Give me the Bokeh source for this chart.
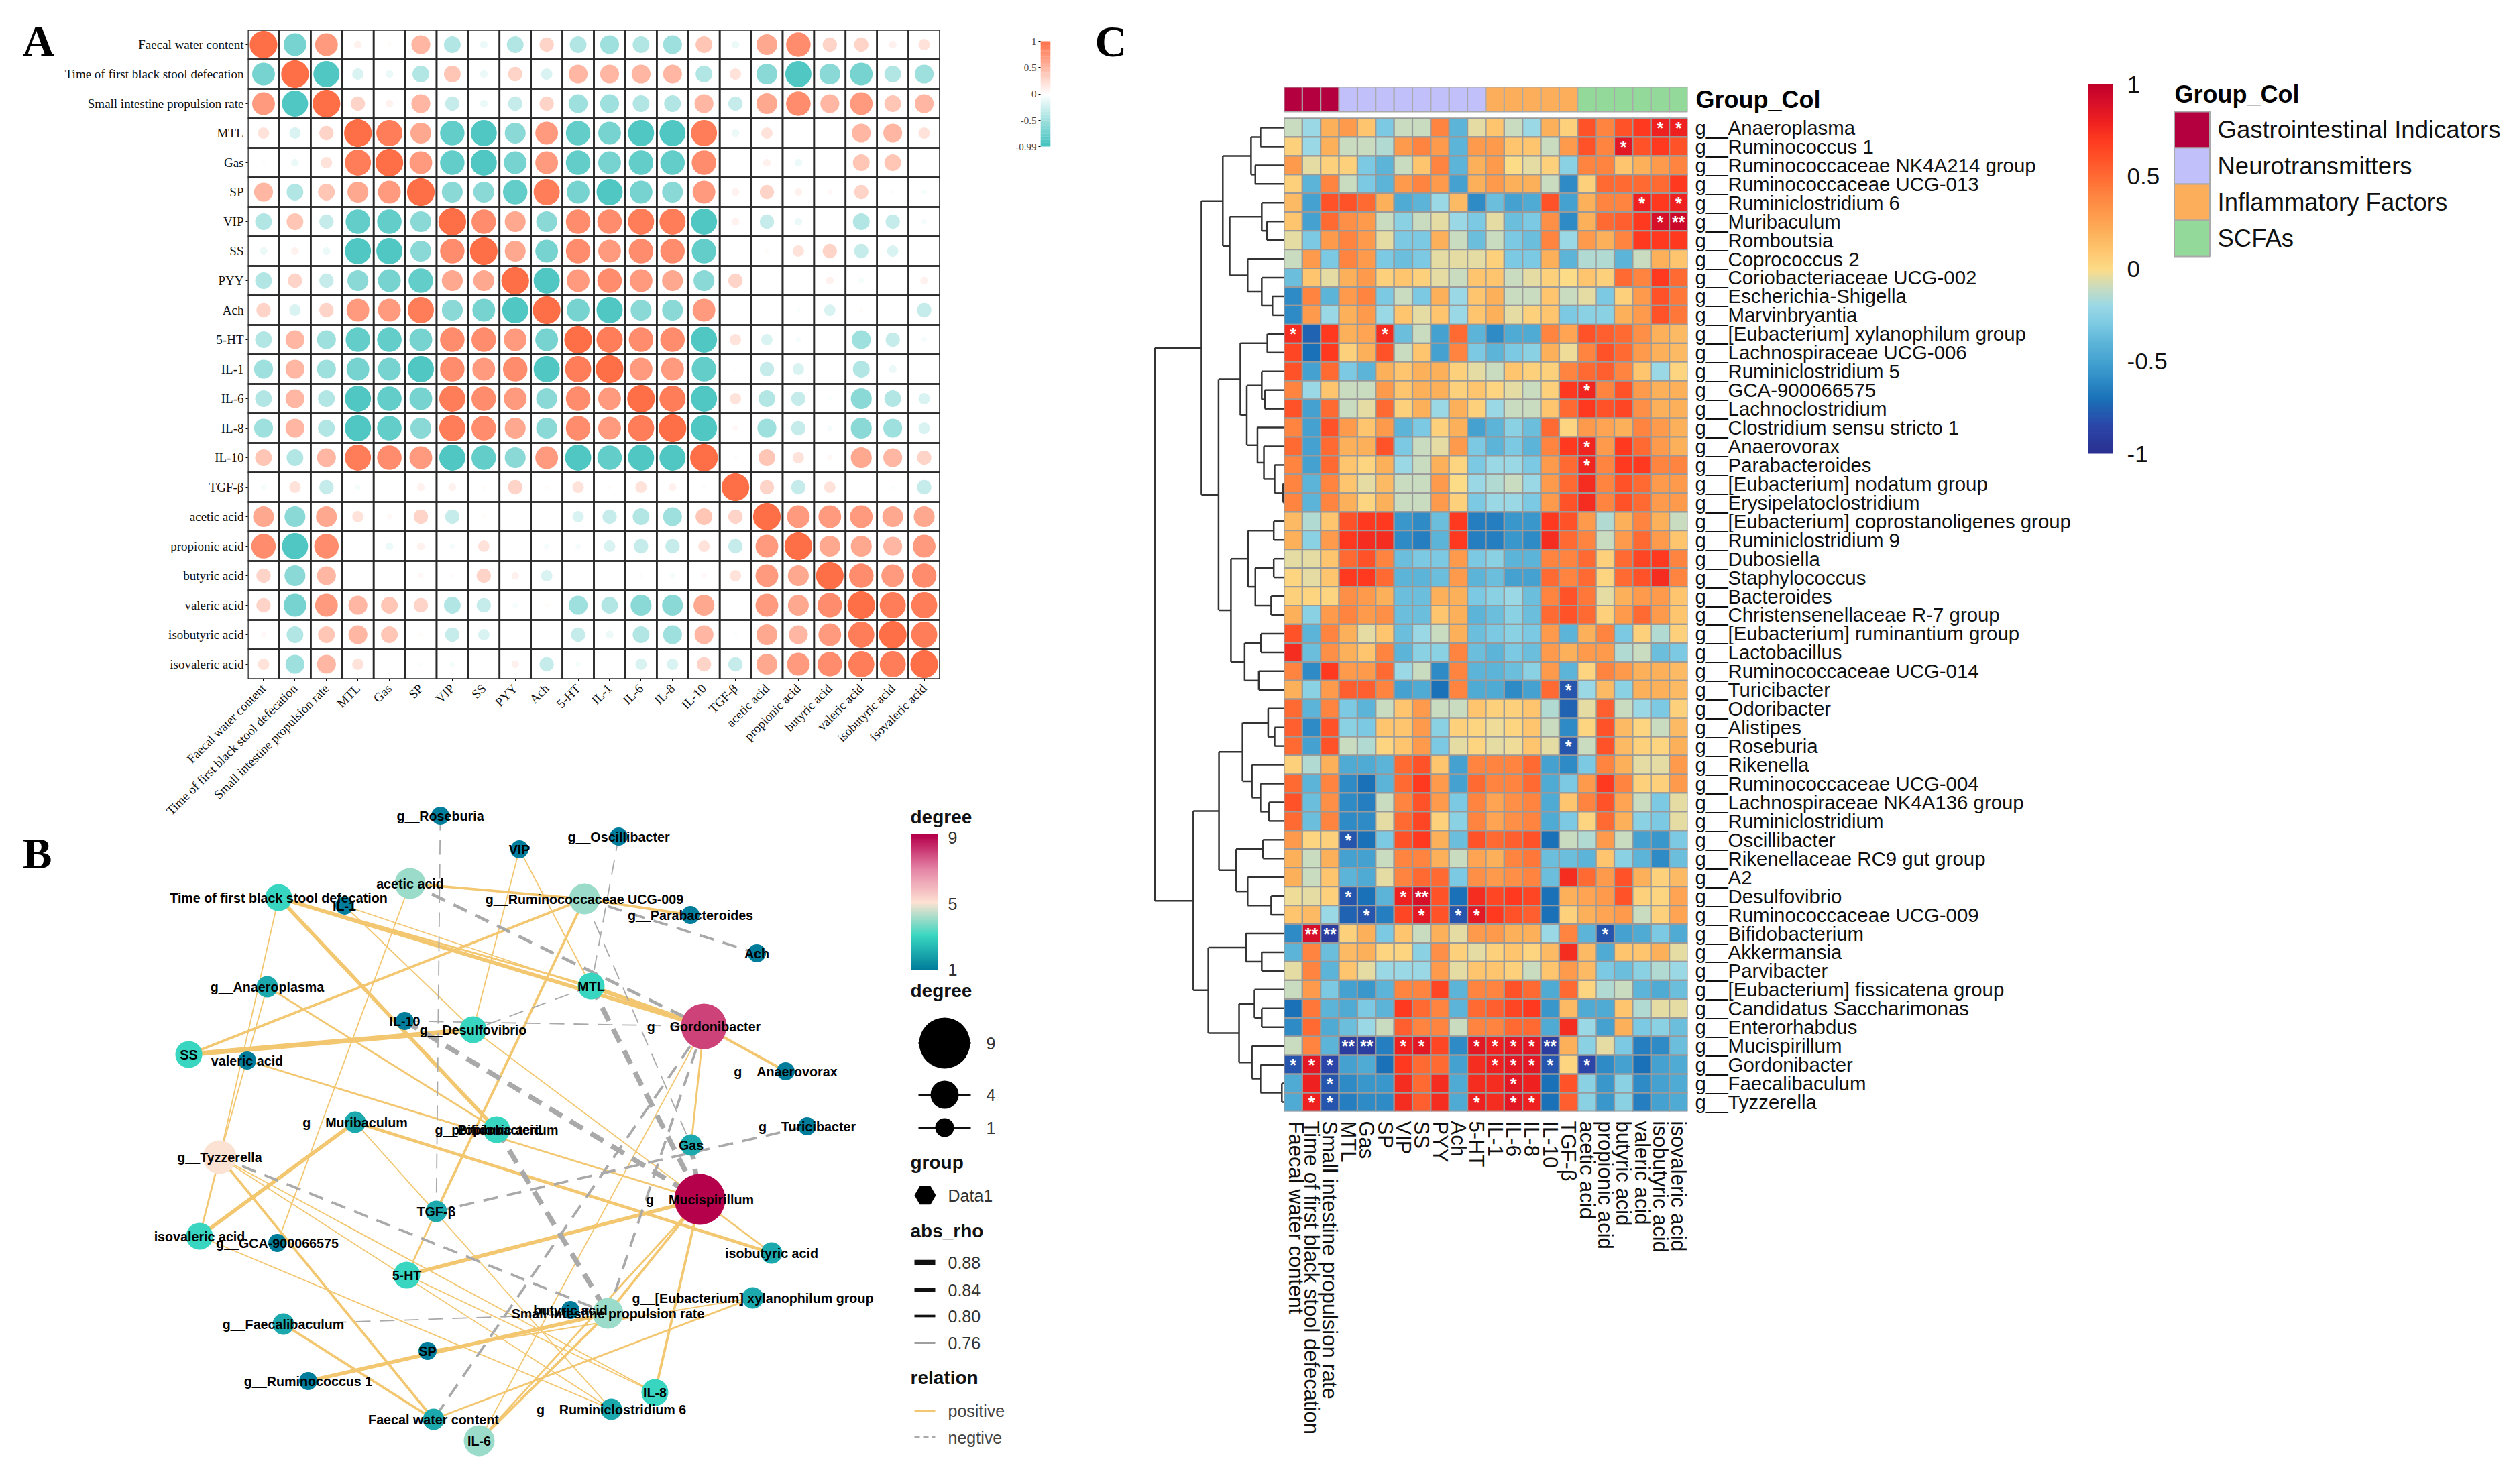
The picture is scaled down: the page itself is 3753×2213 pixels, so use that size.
import math
import numpy as np
from bokeh.plotting import figure
from bokeh.layouts import row, column
from bokeh.models import ColumnDataSource, LinearColorMapper, FixedTicker, Range1d
from bokeh.core.properties import value
from bokeh.embed import file_html
from bokeh.resources import INLINE

SERIF = "Liberation Serif"
SANS = "Liberation Sans"

# ---------- shared variable names ----------
variables = ["Faecal water content", "Time of first black stool defecation", "Small intestine propulsion rate",
             "MTL", "Gas", "SP", "VIP", "SS", "PYY", "Ach", "5-HT", "IL-1", "IL-6", "IL-8", "IL-10", "TGF-β",
             "acetic acid", "propionic acid", "butyric acid", "valeric acid", "isobutyric acid", "isovaleric acid"]

# ---------- panel A: correlations, in tenths ----------
corr_rows = [
 [10,-7,7,1,.3,5,-4,-1,-4,3,-4,-5,-4,-5,4,-1,6,8,3,3,1,2],
 [-7,10,-9,-2,-1,-4,4,-1,3,-2,5,5,5,5,-4,2,-6,-9,-6,-7,-4,-5],
 [7,-9,10,3,1,5,-3,-1,-3,3,-5,-5,-4,-4,5,-3,6,8,5,7,4,5],
 [2,-2,3,10,9,6,-8,-9,-6,7,-8,-7,-9,-9,9,-1,2,0,0,5,5,2],
 [.3,-1,2,9,10,7,-8,-9,-7,7,-8,-7,-8,-8,8,0,1,-1,0,4,4,0],
 [5,-4,4,6,7,10,-6,-6,-8,9,-7,-9,-7,-6,7,1,3,1,.5,3,.3,-.5],
 [-4,4,-3,-8,-8,-6,10,8,6,-6,8,8,9,9,-9,1,-3,-1,0,-4,-3,-.5],
 [-1,1,-1,-9,-9,-6,8,10,6,-7,8,7,8,8,-8,0,.3,2,3,-3,-2,0],
 [-4,3,-3,-6,-7,-8,6,6,10,-9,7,8,7,6,-6,3,0,0,1,-.5,0,1],
 [3,-2,3,7,7,9,-6,-7,-9,10,-7,-9,-6,-6,7,0,0,-.3,-2,.3,0,-3],
 [-4,5,-5,-8,-8,-7,8,8,7,-7,10,9,8,8,-9,2,-2,-.5,0,-5,-3,-.5],
 [-5,5,-5,-7,-7,-9,8,7,8,-9,9,10,7,7,-8,.2,-3,-2,0,-4,-1,0],
 [-4,5,-4,-9,-8,-7,9,8,7,-6,8,7,10,9,-9,2,-4,-3,-.3,-6,-4,-2],
 [-5,5,-4,-9,-8,-6,9,8,6,-6,8,7,9,10,-9,.5,-5,-3,-.5,-6,-5,-2],
 [4,-4,5,9,8,7,-9,-8,-6,7,-9,-8,-9,-9,10,.3,4,2,.5,6,5,3],
 [-.5,2,-3,-.5,0,1,1,.3,3,.3,2,.3,2,1,.3,10,3,-3,2,0,-.3,-3],
 [6,-6,6,2,.5,3,-3,.3,0,0,-2,-3,-4,-5,4,3,10,7,7,7,6,6],
 [8,-9,8,0,-1,1,-.5,2,0,-.5,-.5,-2,-3,-3,2,-3,7,10,6,6,5,7],
 [3,-6,5,0,0,.5,.3,3,1,-2,0,0,-.3,-.5,.5,2,7,6,10,8,7,8],
 [3,-7,7,5,4,3,-4,-3,-.5,.3,-5,-4,-6,-6,6,0,7,6,8,10,9,9],
 [.5,-4,4,5,4,.3,-3,-2,0,0,-3,-1,-4,-5,5,-.3,6,5,7,9,10,9],
 [2,-5,5,2,0,-.3,-.5,0,1,-3,-.5,0,-2,-2,3,-3,6,7,8,9,9,10],
]

# ---------- panel C: genera and correlations, in tenths ----------
genera = ["g__Anaeroplasma","g__Ruminococcus 1","g__Ruminococcaceae NK4A214 group","g__Ruminococcaceae UCG-013",
 "g__Ruminiclostridium 6","g__Muribaculum","g__Romboutsia","g__Coprococcus 2","g__Coriobacteriaceae UCG-002",
 "g__Escherichia-Shigella","g__Marvinbryantia","g__[Eubacterium] xylanophilum group","g__Lachnospiraceae UCG-006",
 "g__Ruminiclostridium 5","g__GCA-900066575","g__Lachnoclostridium","g__Clostridium sensu stricto 1","g__Anaerovorax",
 "g__Parabacteroides","g__[Eubacterium] nodatum group","g__Erysipelatoclostridium","g__[Eubacterium] coprostanoligenes group",
 "g__Ruminiclostridium 9","g__Dubosiella","g__Staphylococcus","g__Bacteroides","g__Christensenellaceae R-7 group",
 "g__[Eubacterium] ruminantium group","g__Lactobacillus","g__Ruminococcaceae UCG-014","g__Turicibacter","g__Odoribacter",
 "g__Alistipes","g__Roseburia","g__Rikenella","g__Ruminococcaceae UCG-004","g__Lachnospiraceae NK4A136 group",
 "g__Ruminiclostridium","g__Oscillibacter","g__Rikenellaceae RC9 gut group","g__A2","g__Desulfovibrio",
 "g__Ruminococcaceae UCG-009","g__Bifidobacterium","g__Akkermansia","g__Parvibacter","g__[Eubacterium] fissicatena group",
 "g__Candidatus Saccharimonas","g__Enterorhabdus","g__Mucispirillum","g__Gordonibacter","g__Faecalibaculum","g__Tyzzerella"]

heat_rows = [
 [-1,-2,2,3,1,-3,-1,-1,4,-4,-.5,1,-1,-2,2,.5,6,4,6,7,8,8],
 [.5,-2,2,-1,-1,-1.5,3,4,3,-4,3,3,1,1,-1,3,6,4,8.5,6,7,6],
 [3,-.5,.5,.5,-3,-4,-1,1,4,-4,2,3,0,-.5,.5,-2.5,4,4,1,2,3,4],
 [.5,-4,4,-1,-3,-4,3,4,3,-5,2,3,2,2,-1,-6,.5,5,5,5,5,7],
 [1.5,-5,6,6,5,2,-4.5,-4,-2,1.5,-6,-3.5,-5,-4.5,6,-5,2,4,4,8,7,8],
 [1,-5,5,3.5,3,-1,-2.5,-1,-.5,-2,-3,-.5,-3.5,-3,3.5,-6,2,5,5.5,7,9,9.5],
 [-.5,-3,3,4,3,-.5,-3,-3,2,-1,-3.5,-1,-3,-3.5,4,-2,3,2,4,7,7,7],
 [-1,3,-3,4,3,-3,-3.5,-3,-.5,-.5,-.5,.5,-3,-3,2,-4,-1.5,-1.5,-4,-1,2,1],
 [-3.5,1,-.5,2,3,.5,1,.5,-.5,-1,1,1,-1,-.5,.5,0,1,.5,5,4,7,5],
 [-6,4,-4,3,4,-3,-1,-3,2,-2,1,2,-1,-1,1,-1,-.5,-3,.5,3,6,4.5],
 [-6,3,-2,2,3,-2,1,-.5,1,-2,1,2,-.5,.5,1,-3,-2.5,-2.5,2,3,6,4.5],
 [7.5,-7.5,7,2,2.5,7.5,-3.5,-1,-5,5,-4,-6,-4.5,-4.5,4,2.5,6,5.5,5,3.5,2,1.5],
 [6.5,-7,7,.5,2,6,-1,1,-5,4,-3,-4,-3,-2.5,2,-.3,4,6,5,3,2,1.5],
 [6,-5,5,-3,-4,2,1,2,2,.5,-.5,-1,1,.5,.5,4,5,5.5,4,1,-2,.3],
 [4,-2,1,-1,-1,3,1,2,2,.5,1,.3,-.5,-1,.5,7,7.8,4,6,3,2,2],
 [6,-5,5,-1,-.5,5,.5,2,-2,2,.5,-2,-1,-1,1,5,7,6,6.5,3.5,2,2],
 [4,-5,6,3,1,3,-4,-3,.5,2,-5,-4,-2.5,-3.5,5,.3,3,2.5,2,4,3,2],
 [5,-5,5,2,2,6,-3,-1,-.5,3,-3,-4,-3,-4,4,7,7.8,3,7,5,3,2],
 [4,-5,5,1,.3,2,-2,-1,2,.3,-3,-2,-2,-3,3,5,7.8,4,7,7,4,4],
 [4,-4,4,1,-.5,1.5,-1,-1,3,0,-2,-1.5,-1,-2,3,5,7.5,4,6,5,3,3],
 [4,-4,4,2,.3,2,-1,-1,3,.5,-3,-2,-2,-3,3,6,7.5,4,6,5,3,3],
 [1.5,-1.5,1,6,7,7,-5.5,-6,-3.5,7,-6.5,-6.5,-5.5,-5.5,7,6,3,-1.5,2,4,2,-1],
 [2,-2.5,3,7,7.5,7.5,-6,-6.5,-4,7,-6.5,-6.5,-5.5,-6,7.5,5,4,-1,3,5,3,1],
 [-.5,-.5,1,5,6,4,-3.5,-3,-3,3,-3,-2.5,-4,-4,4,4,5,.5,5,6.5,7,4],
 [.3,-.5,1,7,7,5,-4,-4,-3.5,3,-4,-3.5,-5,-5,5,4,5,.3,5,6,7.5,4],
 [.5,.3,.3,3.5,3,2,-3.5,-3.5,2,2,-3,-2.5,-2,-3.5,4,6,4.5,-.5,2,3,3,1],
 [2,-2.5,3,4,3,3.5,-3.5,-3.5,1,2,-4,-3.5,-2.5,-3.5,5,6,5,.5,3,5,3,1],
 [6,-4,4,2,-.5,1,-3.5,-2,-1,2,-3.5,-3,-2.5,-3,3,-4,2,4,-3,.5,-1.5,.5],
 [7.5,-3.5,3.5,2,1,4,-4,-2.5,-2.5,4,-3.5,-4,-3,-3.5,3,2,3,3,-1.5,-1,-3.5,-3],
 [4,-6,7,3,3,5,-2,-1,-6,4,-4,-4,-3.5,-2.5,3,-4,.3,4,3,2,2,1.5],
 [2,-2.5,3,5.5,5.5,4,-5,-4.5,-7,4,-4.5,-4.5,-6,-5,5,-8,-2,1.5,-2.5,2,2,1.5],
 [5,-4,4,-3,-4,-1,1,3,-1,-1,1,.5,.5,1,-1.5,-7.5,-.5,5.5,-1,-2,-3,.5],
 [5.5,-6,6,-2.5,-3,1,1,3,-2.5,.5,.3,-.3,.3,1,-1,-6,.3,6,1.5,.3,-1,1.5],
 [5,-5,6,-1,-1.5,.3,1,3,-3,-.5,.3,-.5,-.3,1,-.5,-8,-1,6,1.5,.5,.3,2],
 [.5,-1.5,2,-4.5,-4.5,-4,5,6,1,-5,4,4,4,5,-5,-6,-3,4,2,-.5,-.5,3],
 [5,-4,4,-6,-7,-4,5,7,3,-5,5,4,4,5,-4.5,-3,3,7,4,.5,.5,3],
 [6,-3.5,3.5,-6,-6.5,-1,4,6,3,-3,4,2.5,3.5,4,-4.5,1,4,6,2.5,-1,-3,-.5],
 [5,-3.5,4,-6,-6,-.5,5,6.5,.5,-2.5,4,2.5,3.5,4,-4.5,-3,.3,5,2,-2.5,-3,-.5],
 [3,.3,.5,-8,-7,-3,6,7,2,-3.5,6,5,5.5,6,-7,-1,-1.5,3,-1,-5,-5.5,-3],
 [2,-1,2,-5,-5,-1,4,4,2,-1,2.5,2,4,4.5,-3.5,-3.5,-4,1,-2.5,-4,-6,-3.5],
 [2,-1,1,-4,-4.5,-.5,4,5,5,-3,3.5,3,3.5,4,-3.5,7.5,5,3,6,2,.5,1.5],
 [-.3,-.5,.5,-8,-7,-4,8,9,6,-7,7.5,6.5,7,6.5,-7,2,2.5,3,6,.5,.3,2.5],
 [1,1.5,-2,-7.5,-8,-6.5,6.5,8.5,6,-8,8.5,7,6,5.5,-7,.5,2,2.5,3,-1,.5,2.5],
 [-6,9,-9,.5,2,-3,1,-1,2,-.5,3,3,2,2,-2,4,-4,-8,-5,-4.5,-3,-4.5],
 [-4,4,-3.5,1.5,2,.3,.3,-2.5,3.5,.5,-.5,.5,1,.3,1.5,7.5,1.5,-4.5,1,1,2,-.5],
 [-.5,4,-4,1,-.5,-2,-2,-2,3,-.5,1,1,.5,-1,1,3,1.5,-3,-3.5,-2.5,-1.5,-2],
 [-1,3,-3,-5,-5.5,-4,4,4,6.5,-4,4,4,6,5,-4.5,5,.3,-1.5,-1,-4,-4.5,-3.5],
 [-7,4.5,-4,-4.5,-3,-4,7,5,4,-4,5,5.5,6.5,7,-5.5,1.5,-4.5,-4.5,1,-1.5,-.5,-.5],
 [-6,5,-4.5,-3.5,-2,-1,5.5,4,4,-1,4,4,5,5,-4.5,7.5,-2,-5,2,-3,-2.5,-3.5],
 [-1,4,-4,-9,-9,-6.5,8,8.5,6.5,-6,8.5,8,8.5,8.5,-9,2,-2.5,-.5,-3,-6.5,-6,-3.5],
 [-8,8.5,-8.5,-5,-4.5,-7,7,5,5,-5,7.5,8,8.5,8.5,-8,.3,-8.5,-6,-5,-7,-5,-4.5],
 [-4.5,8,-8,-6,-5.5,-5.5,7.5,5,7.5,-4.5,7.5,7.5,8.5,8,-7,6,-2.5,-5.5,-2.5,-6,-5,-4.5],
 [-4.5,8,-8,-6.5,-6,-6,7.5,5.5,7.5,-4.5,8,7.5,8.5,8,-7,5.5,-2.5,-5.5,-2.5,-6.5,-5,-4.5],
]
assert len(heat_rows) == len(genera) and all(len(r) == 22 for r in heat_rows)
assert len(corr_rows) == 22 and all(len(r) == 22 for r in corr_rows)

# significance marks: (row number, column number, text)
stars = [(1,21,"*"),(1,22,"*"),(2,19,"*"),(5,20,"*"),(5,22,"*"),(6,21,"*"),(6,22,"**"),(12,1,"*"),(12,6,"*"),
 (15,17,"*"),(18,17,"*"),(19,17,"*"),(31,16,"*"),(34,16,"*"),(39,4,"*"),(42,4,"*"),(42,7,"*"),(42,8,"**"),
 (43,5,"*"),(43,8,"*"),(43,10,"*"),(43,11,"*"),(44,2,"**"),(44,3,"**"),(44,18,"*"),
 (50,4,"**"),(50,5,"**"),(50,7,"*"),(50,8,"*"),(50,11,"*"),(50,12,"*"),(50,13,"*"),(50,14,"*"),(50,15,"**"),
 (51,1,"*"),(51,2,"*"),(51,3,"*"),(51,12,"*"),(51,13,"*"),(51,14,"*"),(51,15,"*"),(51,17,"*"),
 (52,3,"*"),(52,13,"*"),(53,2,"*"),(53,3,"*"),(53,11,"*"),(53,13,"*"),(53,14,"*")]

group_names = ["Gastrointestinal Indicators", "Neurotransmitters", "Inflammatory Factors", "SCFAs"]
group_colors = ["#b5003f", "#c2c0fa", "#fdae5a", "#92d99a"]
group_of_column = [0]*3 + [1]*8 + [2]*5 + [3]*6

# dendrogram: (merge height, upper branch, lower branch); integers are row numbers
t1_4 = (.77, (.55, 1, 2), (.67, 3, 4))
t5_7 = (.52, 5, (.40, 6, 7))
t8_11 = (.85, 8, (.52, 9, (.27, 10, 11)))
t1_11 = (1.43, t1_4, (1.27, t5_7, t8_11))
t12_21 = (1.02, (.39, 12, 13), (.87, (.52, 14, (.45, 15, 16)), (.62, 17, (.47, 18, (.22, 19, (.02, 20, 21))))))
t22_27 = (.84, (.24, 22, 23), (.67, (.24, 24, 25), (.30, 26, 27)))
t28_31 = (.92, (.54, 28, 29), (.59, 30, 31))
t12_31 = (1.53, t12_21, (1.24, t22_27, t28_31))
t32_38 = (.97, (.37, 32, (.22, 33, 34)), (.75, 35, (.55, 36, (.35, 37, 38))))
t39_43 = (1.12, (.49, 39, 40), (.85, 41, (.30, 42, 43)))
t44_46 = (.89, 44, (.52, 45, 46))
t47_53 = (1.05, (.69, 47, (.52, 48, 49)), (.75, 50, (.55, 51, (.05, 52, 53))))
dendrogram = (3.02, (1.93, t1_11, t12_31), (2.12, (1.52, t32_38, t39_43), (1.77, t44_46, t47_53)))

# ---------- panel B: network ----------
node_names = ["g__Roseburia","VIP","g__Oscillibacter","acetic acid","Time of first black stool defecation","IL-1",
 "g__Ruminococcaceae UCG-009","g__Parabacteroides","Ach","g__Anaeroplasma","MTL","IL-10","g__Desulfovibrio",
 "g__Gordonibacter","SS","valeric acid","g__Anaerovorax","g__Muribaculum","propionic acid","g__Bifidobacterium",
 "g__Turicibacter","Gas","g__Tyzzerella","g__Mucispirillum","TGF-β","isovaleric acid","g__GCA-900066575",
 "isobutyric acid","5-HT","g__[Eubacterium] xylanophilum group","butyric acid","Small intestine propulsion rate",
 "g__Faecalibaculum","SP","g__Ruminococcus 1","IL-8","g__Ruminiclostridium 6","Faecal water content","IL-6"]
node_x = [656,774,922,611,415,513,871,1029,1128,398,881,603,705,1049,281,368,1171,529,740,740,1203,1030,327,1043,650,
          297,413,1150,606,1122,850,906,422,637,459,976,911,646,714]
node_y = [1216,1266,1247,1317,1338,1350,1340,1364,1421,1471,1470,1522,1535,1530,1572,1581,1597,1673,1684,1684,1679,
          1707,1725,1788,1806,1843,1853,1868,1901,1935,1953,1958,1974,2014,2059,2076,2101,2116,2148]
node_degree = [1,1,1,4,3,1,4,1,1,2,3,1,3,8,3,1,1,2,2,3,1,2,5,9,2,3,1,2,3,2,1,4,2,1,1,3,2,2,4]

T, U, S, G, M, D = ("Time of first black stool defecation", "g__Ruminococcaceae UCG-009",
                    "Small intestine propulsion rate", "g__Gordonibacter", "g__Mucispirillum", "g__Desulfovibrio")
Z, F, R6, X, B = ("g__Tyzzerella", "Faecal water content", "g__Ruminiclostridium 6",
                  "g__[Eubacterium] xylanophilum group", "g__Bifidobacterium")
positive_edges = [("acetic acid",U,.80),("acetic acid","g__GCA-900066575",.76),(T,G,.84),(T,"MTL",.78),(T,B,.84),(T,Z,.76),
 ("IL-1",G,.76),("IL-1",D,.76),("VIP",D,.76),("VIP","MTL",.76),(U,"g__Parabacteroides",.80),(U,"SS",.80),(U,"TGF-β",.80),
 ("TGF-β","5-HT",.78),("g__Anaeroplasma",Z,.76),("g__Anaeroplasma","propionic acid",.78),("SS",D,.88),("valeric acid",M,.78),
 ("g__Muribaculum","isobutyric acid",.82),("g__Muribaculum","isovaleric acid",.84),("g__Muribaculum",R6,.76),(D,M,.76),
 (G,"g__Anaerovorax",.80),(G,"Gas",.78),(G,"MTL",.84),(M,"5-HT",.84),(M,S,.80),(M,"IL-8",.80),(M,"IL-6",.78),(M,"isobutyric acid",.78),
 (Z,"isovaleric acid",.78),(Z,F,.80),(Z,"IL-8",.76),(Z,R6,.76),("isovaleric acid",R6,.76),("g__Faecalibaculum",F,.80),
 ("g__Ruminococcus 1",S,.84),("SP",X,.76),(F,X,.78),("IL-6",G,.76),("IL-6",S,.80),("5-HT","IL-8",.76)]
negative_edges = [("g__Roseburia","TGF-β",.76),("g__Oscillibacter","MTL",.76),("acetic acid",G,.82),(U,"Ach",.80),(U,"Gas",.76),
 ("MTL",D,.76),("IL-10",G,.76),("IL-10",M,.88),("MTL",M,.88),("Gas",M,.88),(B,S,.88),(Z,S,.80),("g__Faecalibaculum",S,.76),
 (G,S,.80),(G,F,.80),("TGF-β","g__Turicibacter",.80)]

rho_levels = [.88, .84, .80, .76]
degree_legend = [9, 4, 1]
relation_labels = ["positive", "negtive"]
heat_ticks = [-1, -.5, 0, .5, 1]
corr_ticks = [-.99, -.5, 0, .5, 1]

# ---------- colours ----------
def hex2rgb(h): return [int(h[i:i+2], 16) for i in (1, 3, 5)]
def ramp(pts, vals, n=512):
    cols = np.array([hex2rgb(v) for v in vals], float)
    xs = np.linspace(pts[0], pts[-1], n)
    out = np.stack([np.interp(xs, pts, cols[:, i]) for i in range(3)], 1).round().astype(int)
    return ["#%02x%02x%02x" % tuple(c) for c in out]

heat_pal = ramp([-1,-.85,-.7,-.6,-.5,-.4,-.3,-.2,-.1,0,.1,.2,.3,.4,.5,.6,.7,.8,.9,1],
 ["#2a3090","#2b46a8","#1a72b8","#2f8bc6","#45a2d0","#5cb4d8","#7cc9e3","#9ad8e5","#c9dcc0","#fddc88","#fec56e",
  "#fdb05a","#fe9a4c","#fe8440","#ff6b33","#ff5228","#fe3a20","#ee2020","#d8102a","#c00028"])
heat_map = LinearColorMapper(palette=heat_pal, low=-1, high=1)
corr_pal = ramp([-.99, 0, 1], ["#3fc1bd", "#ffffff", "#ff6f47"])
corr_map = LinearColorMapper(palette=corr_pal, low=-.99, high=1)
degree_pal = ramp([1, 3, 5, 7, 9], ["#007d9b", "#38d6c0", "#fde2d2", "#e583a6", "#b5004b"])

def base(**kw):
    kw.setdefault("min_border_left", 0); kw.setdefault("min_border_right", 0)
    kw.setdefault("min_border_top", 0); kw.setdefault("min_border_bottom", 0)
    p = figure(output_backend="svg", toolbar_location=None, border_fill_color=None, background_fill_color=None,
               frame_align=False, **kw)
    p.grid.visible = False
    p.outline_line_color = None
    return p

def letter(p, x, y, s):
    p.text([x], [y], text=[s], text_font=value(SERIF), text_font_style="bold", text_font_size="66px",
           text_baseline="middle", text_color="black")

# ---------- panel A ----------
pa_letter = base(width=85, height=1230, x_range=Range1d(8, 93), y_range=Range1d(1238, 8), x_axis_type=None, y_axis_type=None)
letter(pa_letter, 33, 60, "A")

pa = base(width=1347, height=1230, x_range=variables, y_range=list(reversed(variables)),
          min_border_left=276, min_border_right=39, min_border_top=36, min_border_bottom=226)
ax, ay, ar = [], [], []
for i, v in enumerate(variables):
    for j, w in enumerate(variables):
        ax.append(w); ay.append(v); ar.append(corr_rows[i][j] / 10)
src_a = ColumnDataSource(dict(x=ax, y=ay, r=ar, w=[.88*abs(r)**.55 for r in ar], h=[.94*abs(r)**.55 for r in ar]))
pa.ellipse(x="x", y="y", width="w", height="h", source=src_a, line_color=None,
           fill_color={"field": "r", "transform": corr_map})
pa.rect(x="x", y="y", width=1, height=1, source=src_a, fill_color=None, line_color="#2a2a2a", line_width=2.6)
for axis in (pa.xaxis[0], pa.yaxis[0]):
    axis.major_label_text_font = SERIF
    axis.major_label_text_font_size = "19px"
    axis.major_label_text_color = "#111111"
    axis.axis_line_color = None
    axis.major_tick_in = 0
    axis.major_tick_out = 3
    axis.minor_tick_line_color = None
    axis.major_label_standoff = 3
pa.xaxis[0].major_label_orientation = math.pi / 4
pa.xaxis[0].major_label_standoff = 8

pa_cb = base(width=180, height=1230, x_range=(0, 1), y_range=Range1d(-.99, 1), x_axis_type=None,
             min_border_left=111, min_border_right=54, min_border_top=53, min_border_bottom=1020)
lv = np.linspace(-.99, 1, 120)
pa_cb.rect(x=.5, y=lv, width=1, height=(lv[1]-lv[0])*1.3, line_color=None, fill_color={"field": "y", "transform": corr_map})
pa_cb.yaxis[0].ticker = FixedTicker(ticks=corr_ticks)
pa_cb.yaxis[0].major_label_overrides = {-.99: "-0.99", -.5: "-0.5", 0: "0", .5: "0.5", 1: "1"}
pa_cb.yaxis[0].axis_line_color = None
pa_cb.yaxis[0].major_tick_in = 0
pa_cb.yaxis[0].major_tick_out = 3
pa_cb.yaxis[0].minor_tick_line_color = None
pa_cb.yaxis[0].major_label_text_font = SERIF
pa_cb.yaxis[0].major_label_text_font_size = "15px"
pa_cb.yaxis[0].major_label_standoff = 3

# ---------- panel B ----------
pb = base(width=1612, height=1010, x_range=Range1d(8, 1620), y_range=Range1d(2205, 1195),
          x_axis_type=None, y_axis_type=None, margin=(-43, 0, 0, 0))
pos = {n: (x, y) for n, x, y in zip(node_names, node_x, node_y)}
rho_width = lambda r: 1.8 + (r - .76) * 48

def edge_source(edges):
    return ColumnDataSource(dict(x0=[pos[a][0] for a, b, r in edges], y0=[pos[a][1] for a, b, r in edges],
                                 x1=[pos[b][0] for a, b, r in edges], y1=[pos[b][1] for a, b, r in edges],
                                 lw=[rho_width(r) for a, b, r in edges]))
pb.segment("x0", "y0", "x1", "y1", source=edge_source(positive_edges), line_color="#f3c670", line_width="lw")
pb.segment("x0", "y0", "x1", "y1", source=edge_source(negative_edges), line_color="#a9a9a9", line_width="lw", line_dash="22 14")
deg_size = {1: 27, 2: 32, 3: 40, 4: 46, 5: 50, 8: 68, 9: 76}
pb.scatter(node_x, node_y, size=[deg_size[d] for d in node_degree], line_color=None,
           fill_color=[degree_pal[int((d-1)/8*511)] for d in node_degree])
pb.text(node_x, node_y, text=node_names, text_font=value(SANS), text_font_style="bold", text_font_size="19.7px",
        text_align="center", text_baseline="middle", text_color="black")
letter(pb, 33, 1272, "B")

def leg_title(x, y, s):
    pb.text([x], [y], text=[s], text_font=value(SANS), text_font_style="bold", text_font_size="28px",
            text_baseline="middle", text_color="#111111")
def leg_text(x, ys, ss, color="#333333"):
    pb.text([x]*len(ys), ys, text=ss, text_font=value(SANS), text_font_size="25px", text_baseline="middle", text_color=color)

leg_title(1357, 1218, "degree")
lv = np.linspace(1, 9, 100)
pb.rect(x=1378, y=1445 - (lv - 1) / 8 * 200, width=39, height=3, line_color=None, fill_color=[degree_pal[int((d-1)/8*511)] for d in lv])
leg_text(1413, [1248, 1347, 1445], ["9", "5", "1"])
leg_title(1357, 1477, "degree")
leg_ys = [1555, 1632, 1681]
pb.segment([1369]*3, leg_ys, [1447]*3, leg_ys, line_color="#111111", line_width=3)
pb.scatter([1408]*3, leg_ys, size=[76, 42, 28], fill_color="black", line_color=None)
leg_text(1470, leg_ys, [str(d) for d in degree_legend])
leg_title(1357, 1733, "group")
pb.scatter([1379], [1782], size=32, marker="hex", fill_color="black", line_color=None)
leg_text(1413, [1782], ["Data1"])
leg_title(1357, 1835, "abs_rho")
ry = [1882, 1923, 1962, 2002]
pb.segment([1363]*4, ry, [1394]*4, ry, line_color="#111111", line_width=[rho_width(r) for r in rho_levels])
leg_text(1413, ry, ["%.2f" % r for r in rho_levels])
leg_title(1357, 2054, "relation")
pb.segment([1363], [2103], [1394], [2103], line_color="#f3c670", line_width=3)
pb.segment([1363], [2143], [1394], [2143], line_color="#a9a9a9", line_width=3, line_dash="8 5")
leg_text(1413, [2103, 2143], relation_labels, "#444444")

# ---------- panel C: dendrogram ----------
row_px = 27.94                     # height of a heat-map row on the page
heat_top = -1.68
pd_ = base(width=294, height=2137, x_range=Range1d(4.61, 0), y_range=Range1d(53, -168 / row_px), x_axis_type=None, y_axis_type=None,
           min_border_bottom=488)
seg = []
def walk(node):
    if isinstance(node, int):
        return 0.0, node - .5
    h, a, b = node
    ha, ya = walk(a); hb, yb = walk(b)
    seg.append((ha, ya, h, ya)); seg.append((hb, yb, h, yb)); seg.append((h, ya, h, yb))
    return h, (ya + yb) / 2
walk(dendrogram)
xa, ya, xb, yb = zip(*seg)
pd_.segment(xa, ya, xb, yb, line_color="#333333", line_width=2.5)
letter(pd_, 4.42, -115 / row_px, "C")

# ---------- panel C: heat map ----------
ph = base(width=1186, height=2137, x_range=variables, y_range=Range1d(53, heat_top), y_axis_location="right",
          min_border_left=0, min_border_right=584, min_border_top=121, min_border_bottom=488)
hx, hy, hv = [], [], []
for i, r in enumerate(heat_rows):
    for j, c in enumerate(variables):
        hx.append(c); hy.append(i + .5); hv.append(r[j] / 10)
ph.rect(x="x", y="y", width=1, height=1, source=dict(x=hx, y=hy, v=hv), line_color="#9a9a9a", line_width=2.2,
        fill_color={"field": "v", "transform": heat_map})
ph.rect(x=variables, y=-1.02, width=1, height=1.32, line_color="#a9a9a9", line_width=2,
        fill_color=[group_colors[g] for g in group_of_column])
ph.text(x=[variables[c-1] for r, c, s in stars], y=[r - 1 + .02 for r, c, s in stars], text=[s for r, c, s in stars],
        text_color="white", text_font=value(SANS), text_font_style="bold", text_font_size="25px",
        text_align="center", text_baseline="top")
ax_y = ph.yaxis[0]
ax_y.ticker = FixedTicker(ticks=[i + .5 for i in range(len(genera))])
ax_y.major_label_overrides = {i + .5: g for i, g in enumerate(genera)}
ax_y.major_label_text_font = SANS
ax_y.major_label_text_font_size = "29.4px"
ax_y.major_label_text_color = "#111111"
ax_y.axis_line_color = None
ax_y.major_tick_line_color = None
ax_y.minor_tick_line_color = None
ax_y.major_label_standoff = 5
ax_x = ph.xaxis[0]
ax_x.major_label_orientation = "vertical"
ax_x.major_label_text_font = SANS
ax_x.major_label_text_font_size = "31px"
ax_x.major_label_text_color = "#111111"
ax_x.axis_line_color = None
ax_x.major_tick_line_color = None
ax_x.major_label_standoff = 8

# heading of the annotation strip, on a transparent layer over the margin of the heat map
pg = base(width=300, height=400, x_range=Range1d(0, 300), y_range=Range1d(400, 0), x_axis_type=None, y_axis_type=None,
          margin=(0, 288, 0, -588))
pg.text([16], [140], text=["Group_Col"], text_font=value(SANS), text_font_style="bold", text_font_size="36px",
        text_baseline="middle", text_color="black")

# ---------- panel C: colour bar ----------
pc = base(width=135, height=2137, x_range=(0, 1), y_range=Range1d(-1, 1), x_axis_type=None, y_axis_location="right",
          min_border_left=13, min_border_right=85, min_border_top=117, min_border_bottom=1469)
lv = np.linspace(-1, 1, 200)
pc.rect(x=.5, y=lv, width=1, height=(lv[1]-lv[0])*1.3, line_color=None, fill_color={"field": "y", "transform": heat_map})
cy = pc.yaxis[0]
cy.ticker = FixedTicker(ticks=heat_ticks)
cy.major_label_overrides = {-1: "-1", -.5: "-0.5", 0: "0", .5: "0.5", 1: "1"}
cy.axis_line_color = None
cy.major_tick_line_color = None
cy.minor_tick_line_color = None
cy.major_label_text_font = SANS
cy.major_label_text_font_size = "35px"
cy.major_label_text_color = "#111111"
cy.major_label_standoff = 15

# ---------- panel C: group legend ----------
pl = base(width=510, height=2137, x_range=Range1d(3235, 3745), y_range=Range1d(2145, 8), x_axis_type=None, y_axis_type=None)
pl.text([3242], [140], text=["Group_Col"], text_font=value(SANS), text_font_style="bold", text_font_size="36px",
        text_baseline="middle", text_color="black")
sw_y = [193, 247, 301, 355]
pl.rect([3268]*4, sw_y, width=53, height=54, fill_color=group_colors, line_color="#a9a9a9", line_width=2)
pl.text([3306]*4, sw_y, text=group_names, text_font=value(SANS), text_font_size="36.5px", text_baseline="middle", text_color="#111111")

layout = row(column(row(pa_letter, pa, pa_cb), pb), pd_, ph, pg, pc, pl, margin=(8, 0, 0, 8))
open("out.html", "w").write(file_html(layout, INLINE))
